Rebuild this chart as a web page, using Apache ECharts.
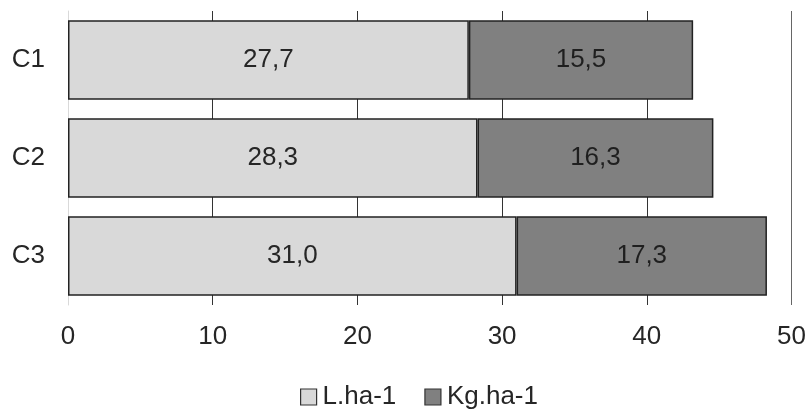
<!DOCTYPE html>
<html><head><meta charset="utf-8">
<script src="https://cdn.jsdelivr.net/npm/echarts@6/dist/echarts.min.js"></script>
<style>html,body{margin:0;padding:0;background:#fff}#c{width:809px;height:409px}</style>
</head><body><div id="c"></div>
<script>
const categories = ['C1', 'C2', 'C3'];
const seriesNames = ['L.ha-1', 'Kg.ha-1'];
const litersPerHa = [27.7, 28.3, 31.0];
const kgPerHa = [15.5, 16.3, 17.3];
const xTicks = [0, 10, 20, 30, 40, 50];

const chart = echarts.init(document.getElementById('c'), null, {renderer: 'canvas'});
const fmt = p => p.value.toFixed(1).replace('.', ',');
const font = 'Liberation Sans, Arial, sans-serif';
const FS = 26;
const TXT = '#262626';
chart.setOption({
  animation: false,
  textStyle: {fontFamily: font},
  grid: {left: 68, right: 17, top: 11, bottom: 104, containLabel: false},
  legend: {
    top: 379, left: 295, icon: 'rect', itemWidth: 16, itemHeight: 16, itemGap: 28,
    textStyle: {fontFamily: font, fontSize: FS, color: TXT, padding: [0, 0, 0, 1]},
    itemStyle: {borderColor: '#333', borderWidth: 1.2},
    data: seriesNames
  },
  xAxis: {
    type: 'value', min: xTicks[0], max: xTicks[xTicks.length - 1], interval: 10,
    axisLine: {show: false}, axisTick: {show: false},
    axisLabel: {fontSize: FS, color: TXT, margin: 19, fontFamily: font},
    splitLine: {show: true, lineStyle: {color: ['#d9d9d9', '#333', '#333', '#333', '#333', '#666'], width: 1}}
  },
  yAxis: {
    type: 'category', data: categories, inverse: true,
    axisLine: {show: true, lineStyle: {color: '#d9d9d9', width: 1}},
    axisTick: {show: false},
    axisLabel: {fontSize: FS, color: TXT, margin: 23, fontFamily: font}
  },
  series: [
    {
      name: seriesNames[0], type: 'bar', stack: 'total', data: litersPerHa, barCategoryGap: '19%',
      itemStyle: {color: '#d9d9d9', borderColor: '#222', borderWidth: 1.5},
      label: {show: true, position: 'inside', formatter: fmt, fontSize: FS, color: TXT, fontFamily: font}
    },
    {
      name: seriesNames[1], type: 'bar', stack: 'total', data: kgPerHa, barCategoryGap: '19%',
      itemStyle: {color: '#808080', borderColor: '#222', borderWidth: 1.5},
      label: {show: true, position: 'inside', formatter: fmt, fontSize: FS, color: '#1f1f1f', fontFamily: font}
    }
  ]
});
</script></body></html>
